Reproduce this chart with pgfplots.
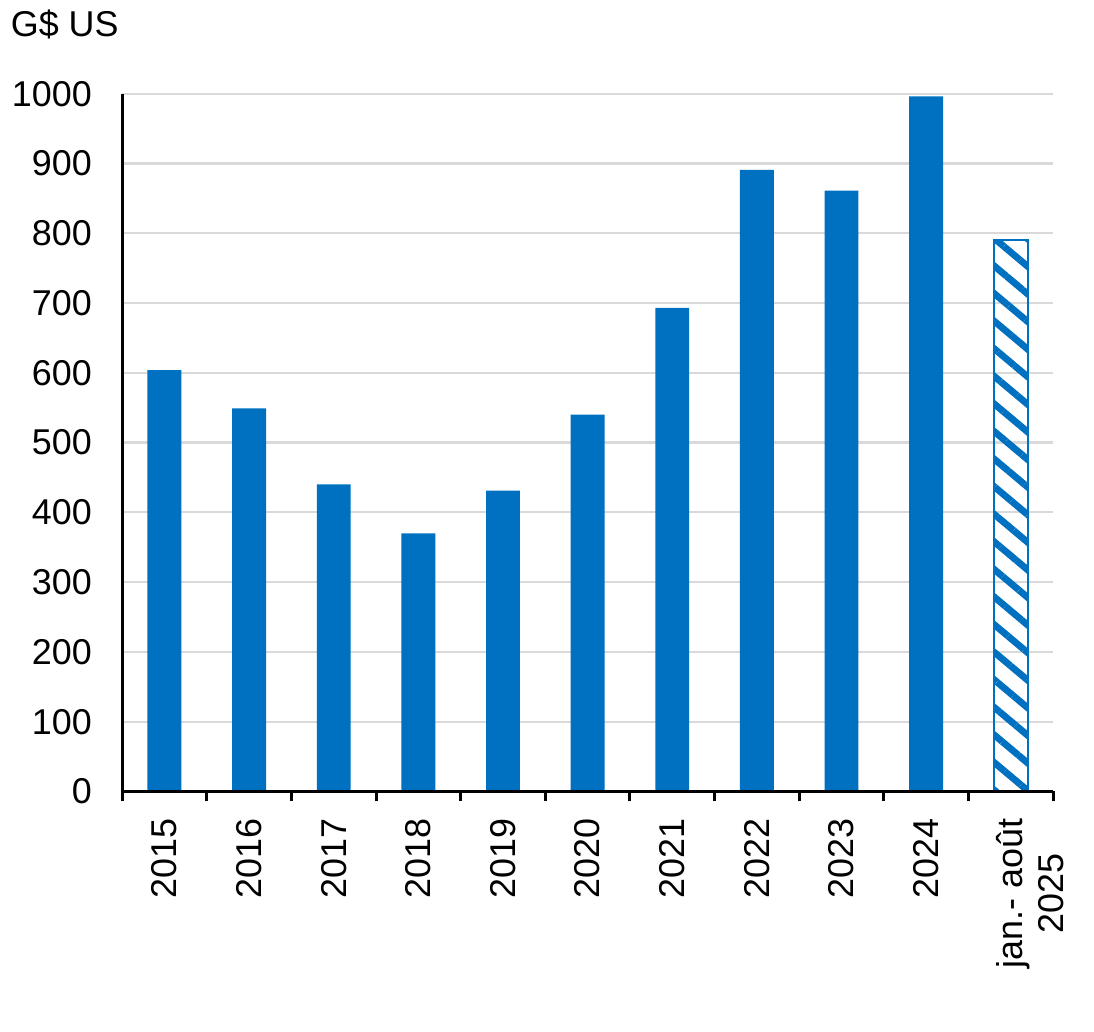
\documentclass[border=0pt]{standalone}
\usepackage{fontspec}
\setmainfont{Liberation Sans}
\usepackage{pgfplots}
\pgfplotsset{compat=1.18}
\usetikzlibrary{patterns.meta}
\definecolor{barblue}{RGB}{0,112,192}
\definecolor{gridgrey}{RGB}{217,217,217}
\pgfplotsset{
  layers/barsfirst/.define layer set={axis background,axis grid,main,axis ticks,axis lines,axis tick labels,axis descriptions,axis foreground}{/pgfplots/layers/standard},
}
\begin{document}
\fontsize{18}{20.5}\selectfont
\begin{tikzpicture}
\begin{axis}[
    name=ax,
    set layers=barsfirst,
    scale only axis,
    width=467pt, height=350pt,
    xmin=-0.5, xmax=10.5,
    ymin=0, ymax=1000,
    axis x line*=bottom,
    axis y line*=left,
    axis line style={line width=1.5pt, black},
    ytick={0,100,...,1000},
    ymajorgrids,
    grid style={line width=1.1pt, gridgrey},
    xtick={0,...,10},
    xticklabels={2015,2016,2017,2018,2019,2020,2021,2022,2023,2024,{\rule{0pt}{12pt}\\jan.- août\\2025}},
    minor xtick={-0.5,0.5,...,10.5},
    tick align=outside,
    major tick length=0pt,
    minor tick length=5pt,
    minor tick style={line width=1.5pt, black},
    major tick style={draw=none},
    tick label style={font=\fontsize{18}{20.5}\selectfont},
    xticklabel style={rotate=90, anchor=east, align=center, xshift=-7.5pt},
    yticklabel style={xshift=-9pt},
    /pgf/number format/assume math mode=true,
    /pgf/number format/1000 sep={},
    ybar, bar width=17pt,
]
\addplot[bar shift=0pt, draw=none, fill=barblue] coordinates {
    (0,604) (1,549) (2,440) (3,370) (4,431) (5,540)
    (6,693) (7,891) (8,861) (9,996)
};
\addplot[bar shift=0pt, draw=barblue, line width=1pt, fill=white,
    pattern={Lines[angle=-40, distance=10.6pt, line width=3.4pt]},
    pattern color=barblue] coordinates {
    (10,790)
};
\end{axis}
\node[anchor=base west, inner sep=0pt, font=\fontsize{18}{20.5}\selectfont]
    at ([xshift=-56pt, yshift=28.5pt]ax.north west) {G\$ US};
\path ([xshift=-59.5pt, yshift=-120.5pt]ax.south west)
      ([xshift=20.5pt, yshift=47pt]ax.north east);
\end{tikzpicture}
\end{document}
